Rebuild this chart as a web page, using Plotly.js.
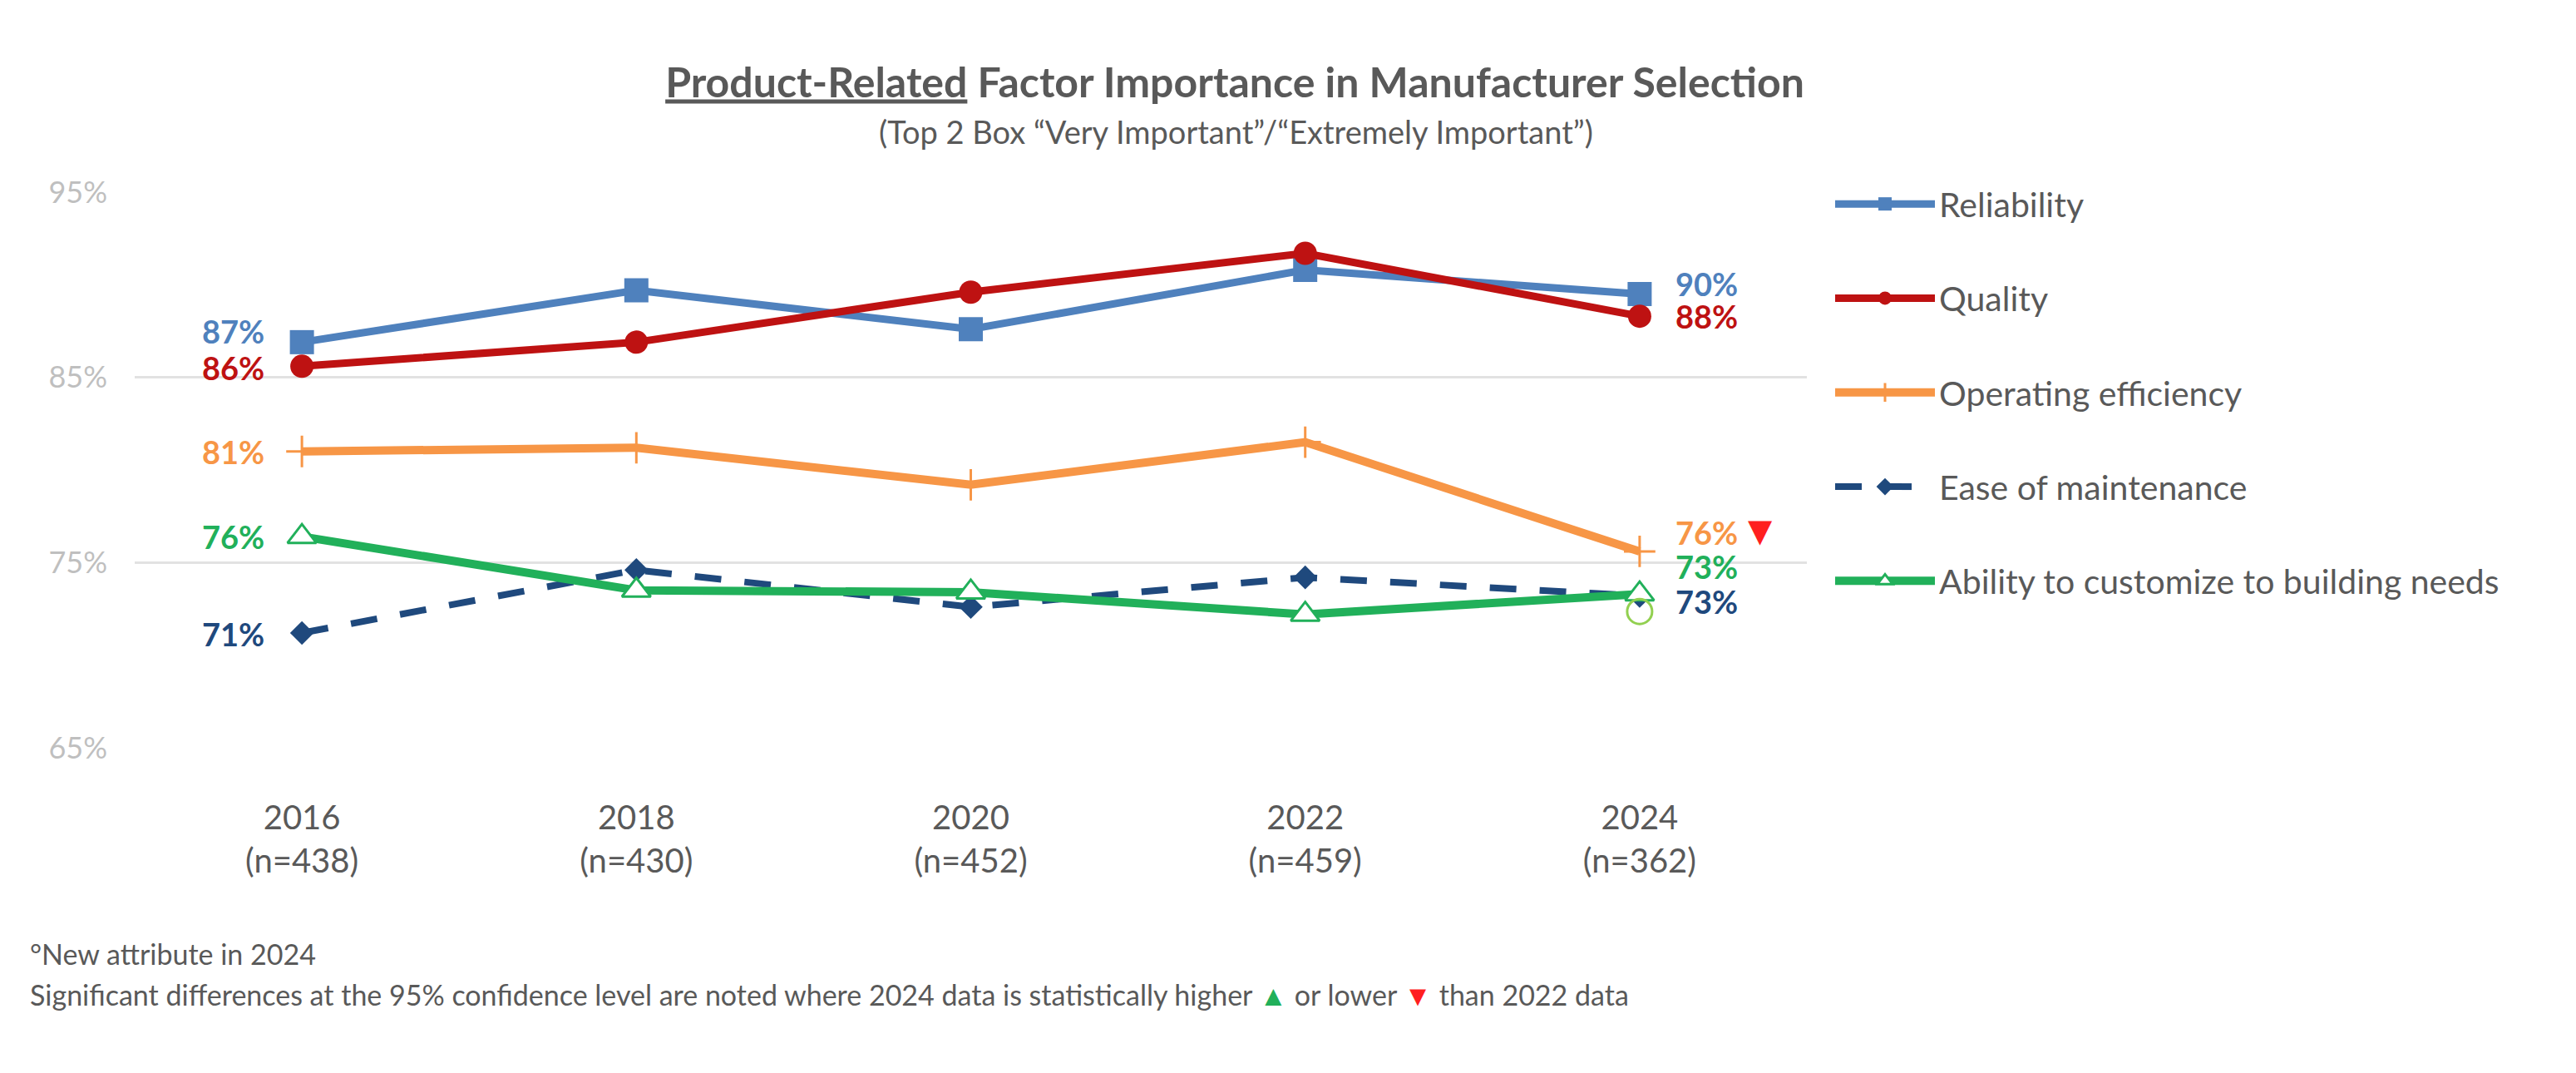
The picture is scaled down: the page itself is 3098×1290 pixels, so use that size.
<!DOCTYPE html>
<html>
<head>
<meta charset="utf-8">
<script src="https://cdn.plot.ly/plotly-3.0.1.min.js"></script>
<style>html,body{margin:0;padding:0;background:#fff;}#chart{width:3098px;height:1290px;}</style>
</head>
<body>
<div id="chart"></div>
<script>
// ---- data ----
const years = ['2016', '2018', '2020', '2022', '2024'];
const sampleSizes = [438, 430, 452, 459, 362];
const seriesNames = ['Reliability', 'Quality', 'Operating efficiency', 'Ease of maintenance', 'Ability to customize to building needs'];
const reliability = [86.9, 89.7, 87.6, 90.8, 89.5];
const quality = [85.6, 86.9, 89.6, 91.7, 88.3];
const operatingEfficiency = [81.0, 81.2, 79.2, 81.5, 75.6];
const easeOfMaintenance = [71.2, 74.6, 72.6, 74.2, 73.2];
const abilityToCustomize = [76.4, 73.5, 73.4, 72.2, 73.3];
const yTicks = [65, 75, 85, 95];

// ---- styles ----
const FONT = 'Lato, "Open Sans", sans-serif';
const TXT = '#595959';
const colors = ['#4F81BD', '#BE1212', '#F79646', '#1F497D', '#21B05A'];
const allSeries = [reliability, quality, operatingEfficiency, easeOfMaintenance, abilityToCustomize];
const firstIdx = 0, lastIdx = years.length - 1;

const traces = [
  {line: {color: colors[0], width: 9}, marker: {symbol: 'square', size: 29, color: colors[0]}},
  {line: {color: colors[1], width: 9}, marker: {symbol: 'circle', size: 28, color: colors[1]}},
  {line: {color: colors[2], width: 10}, marker: {symbol: 'cross-thin', size: 27, color: colors[2], line: {color: colors[2], width: 3}}},
  {line: {color: colors[3], width: 8, dash: '32px,28px'}, marker: {symbol: 'diamond', size: 22, color: colors[3]}},
  {line: {color: colors[4], width: 10}, marker: {symbol: 'triangle-up', size: 30, color: '#FFFFFF', line: {color: colors[4], width: 3}}}
].map((t, i) => Object.assign({
  type: 'scatter', mode: 'lines+markers', x: years, y: allSeries[i], name: seriesNames[i],
  legendgroup: 'g' + i, hoverinfo: 'skip'
}, t));

// label offsets (pixels)
const leftShift = [13, -2, 0, -1, 0];
const rightShift = [12, 0, 23, -7, 33];
const annotations = [];
allSeries.forEach((s, i) => {
  annotations.push({x: firstIdx, y: s[firstIdx], xref: 'x', yref: 'y', text: '<b>' + Math.round(s[firstIdx]) + '%</b>',
    showarrow: false, xanchor: 'right', yanchor: 'middle', xshift: -43, yshift: leftShift[i],
    font: {family: FONT, size: 38, color: colors[i]}});
  annotations.push({x: lastIdx, y: s[lastIdx], xref: 'x', yref: 'y', text: '<b>' + Math.round(s[lastIdx]) + '%</b>',
    showarrow: false, xanchor: 'left', yanchor: 'middle', xshift: 41, yshift: rightShift[i],
    font: {family: FONT, size: 38, color: colors[i]}});
});
// significance marker (lower than 2022) for operating efficiency
annotations.push({x: lastIdx, y: operatingEfficiency[lastIdx], xref: 'x', yref: 'y', text: '▼', showarrow: false,
  xanchor: 'center', yanchor: 'middle', xshift: 145, yshift: 25, font: {family: 'DejaVu Sans', size: 38, color: '#FF1F1F'}});
// subtitle
annotations.push({x: (1486 - 162) / 2011, y: (899 - 158) / 668, xref: 'paper', yref: 'paper', showarrow: false,
  text: '(Top 2 Box “Very Important”/“Extremely Important”)', xanchor: 'center', yanchor: 'middle',
  font: {family: FONT, size: 38, color: TXT}});
// footnotes
annotations.push({x: (34 - 162) / 2011, y: (899 - 1146) / 668, xref: 'paper', yref: 'paper', showarrow: false,
  text: '°New attribute in 2024', xanchor: 'left', yanchor: 'middle', font: {family: FONT, size: 34, color: TXT}});
annotations.push({x: (34 - 162) / 2011, y: (899 - 1195) / 668, xref: 'paper', yref: 'paper', showarrow: false,
  text: 'Significant differences at the 95% confidence level are noted where 2024 data is statistically higher <span style="color:#21B05A">▲</span> or lower <span style="color:#FF1F1F">▼</span> than 2022 data',
  xanchor: 'left', yanchor: 'middle', font: {family: FONT, size: 34, color: TXT}});

const layout = {
  width: 3098, height: 1290,
  margin: {l: 162, r: 925, t: 231, b: 391},
  paper_bgcolor: '#FFFFFF', plot_bgcolor: '#FFFFFF',
  title: {text: '<b><u>Product-Related</u> Factor Importance in Manufacturer Selection</b>',
    x: 1485 / 3098, xanchor: 'center', xref: 'container', y: 1 - 99 / 1290, yanchor: 'middle', yref: 'container',
    font: {family: FONT, size: 50, color: TXT}},
  xaxis: {type: 'category', range: [-0.5, 4.5], showgrid: false, zeroline: false, showline: false, ticks: '',
    tickvals: years, ticktext: years.map((y, i) => y + '<br>(n=' + sampleSizes[i] + ')'),
    tickfont: {family: FONT, size: 40, color: TXT}, ticklabelstandoff: 57, fixedrange: true},
  yaxis: {range: [65, 95], tickvals: yTicks, ticktext: yTicks.map(v => v + '%'), showgrid: true,
    gridcolor: '#E2E2E2', gridwidth: 3, zeroline: false, showline: false, ticks: '',
    tickfont: {family: FONT, size: 36, color: '#BFBFBF'}, ticklabelstandoff: 32, fixedrange: true},
  showlegend: true,
  legend: {xref: 'container', yref: 'container', x: 2202 / 3098, xanchor: 'left', y: 1 - 212 / 1290, yanchor: 'top',
    traceorder: 'grouped', tracegroupgap: 57, itemwidth: 120,
    font: {family: FONT, size: 41, color: TXT}, bgcolor: 'rgba(0,0,0,0)'},
  shapes: [{type: 'circle', xref: 'x', yref: 'y', xsizemode: 'pixel', ysizemode: 'pixel',
    xanchor: lastIdx, yanchor: abilityToCustomize[lastIdx], x0: -15, x1: 15, y0: -36, y1: -6,
    line: {color: '#92D050', width: 3}, fillcolor: 'rgba(0,0,0,0)'}],
  annotations: annotations
};

Plotly.newPlot('chart', traces, layout, {staticPlot: true, displayModeBar: false});
</script>
</body>
</html>
